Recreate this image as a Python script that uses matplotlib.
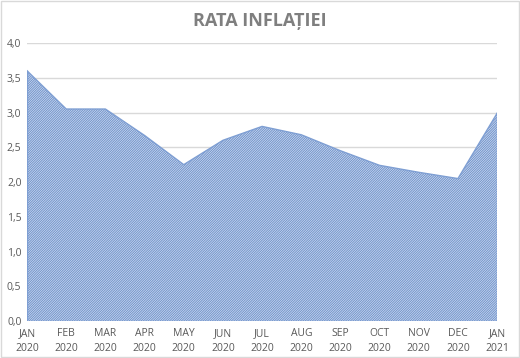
import numpy as np
import matplotlib.pyplot as plt

# --- data ---
months = ['JAN\n2020', 'FEB\n2020', 'MAR\n2020', 'APR\n2020', 'MAY\n2020', 'JUN\n2020',
          'JUL\n2020', 'AUG\n2020', 'SEP\n2020', 'OCT\n2020', 'NOV\n2020', 'DEC\n2020',
          'JAN\n2021']
inflation = [3.6, 3.05, 3.05, 2.67, 2.25, 2.6, 2.8, 2.68, 2.45, 2.24, 2.14, 2.05, 2.99]
yticks = [0.0, 0.5, 1.0, 1.5, 2.0, 2.5, 3.0, 3.5, 4.0]

plt.rcParams['hatch.linewidth'] = 0.7
plt.rcParams['font.family'] = ['Open Sans', 'DejaVu Sans']

fig = plt.figure(figsize=(5.2, 3.58), dpi=100)
ax = fig.add_axes([0.052, 0.103, 0.904, 0.777])

x = np.arange(len(months))
ax.fill_between(x, inflation, 0, facecolor='#d4def0', edgecolor='#6f93cc',
                hatch='/' * 14, linewidth=0, zorder=2)
ax.plot(x, inflation, color='#7f9fd3', linewidth=1.0, zorder=3)
ax.plot([x[0], x[0]], [0, inflation[0]], color='#7f9fd3', linewidth=1.0, zorder=3)
ax.plot([x[-1], x[-1]], [0, inflation[-1]], color='#7f9fd3', linewidth=1.0, zorder=3)
ax.plot([x[0], x[-1]], [0, 0], color='#7f9fd3', linewidth=1.0, zorder=3)

ax.set_xlim(x[0], x[-1])
ax.set_ylim(0, 4.0)
ax.set_yticks(yticks)
ax.set_yticklabels([f'{v:.1f}'.replace('.', ',') for v in yticks])
ax.set_xticks(x)
ax.set_xticklabels(months, linespacing=1.5)
ax.tick_params(length=0, labelsize=7.5, colors='#595959', pad=5)
ax.tick_params(axis='y', pad=4)
ax.grid(axis='y', color='#d9d9d9', linewidth=1.0, zorder=1)
for s in ax.spines.values():
    s.set_visible(False)

fig.text(0.5, 0.94, 'RATA INFLAȚIEI', ha='center', va='center', fontsize=13,
         fontweight='bold', color='#7f7f7f')

# light border round the chart
fig.patches.append(plt.Rectangle((0.002, 0.003), 0.996, 0.994, transform=fig.transFigure,
                                 fill=False, edgecolor='#d9d9d9', linewidth=1.0))

fig.savefig('out.png', dpi=100)
